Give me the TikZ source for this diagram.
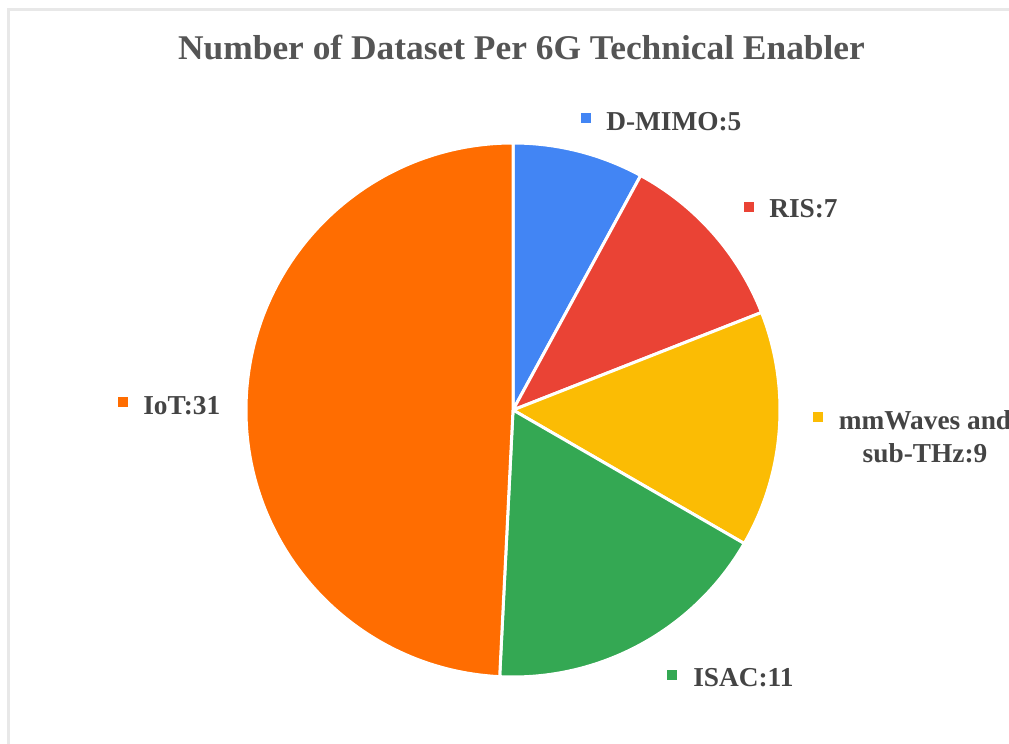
\documentclass[tikz,border=0pt]{standalone}
\usepackage{fontspec}
\setmainfont{Liberation Serif}
\usepackage{graphicx}
\definecolor{cMimo}{HTML}{4285F4}
\definecolor{cRis}{HTML}{EA4335}
\definecolor{cMm}{HTML}{FBBC04}
\definecolor{cIsac}{HTML}{34A853}
\definecolor{cIot}{HTML}{FF6D01}
\definecolor{cText}{HTML}{444444}
\definecolor{cTitle}{HTML}{555555}
\definecolor{cFrame}{HTML}{E8E8E8}
\tikzset{
  slice/.style={draw=white, line width=2.25pt, line join=round},
  keybox/.style={minimum size=7.5pt, inner sep=0pt, draw=none},
  keytext/.style={anchor=base west, inner sep=0pt, text=cText,
    font=\fontsize{20.5}{24}\selectfont\bfseries},
}
\begin{document}
\begin{tikzpicture}[x=0.75pt,y=0.75pt]
% canvas: 1009 x 743 units, y measured upwards
\useasboundingbox (0,0) rectangle (1009,743);
\clip (0,0) rectangle (1009,743);
\fill[white] (0,0) rectangle (1009,743);
% chart frame, continuing past the right and bottom edges
\draw[cFrame, line width=2.25pt] (8.5,-20) -- (8.5,733) -- (1030,733);

% title
\node[text=cTitle, inner sep=0pt, anchor=base] (title) at (521.5,683)
  {\resizebox{515pt}{\height}{\fontsize{26}{30}\selectfont\bfseries Number of Dataset Per 6G Technical Enabler}};

% pie: 5 + 7 + 9 + 11 + 31 = 63, clockwise from the top
\coordinate (c) at (513,333);
\def\R{267}
\filldraw[slice, fill=cMimo] (c) -- ++(90:\R) arc[start angle=90, end angle=61.43, radius=\R] -- cycle;
\filldraw[slice, fill=cRis] (c) -- ++(61.43:\R) arc[start angle=61.43, end angle=21.43, radius=\R] -- cycle;
\filldraw[slice, fill=cMm] (c) -- ++(21.43:\R) arc[start angle=21.43, end angle=-30, radius=\R] -- cycle;
\filldraw[slice, fill=cIsac] (c) -- ++(-30:\R) arc[start angle=-30, end angle=-92.86, radius=\R] -- cycle;
\filldraw[slice, fill=cIot] (c) -- ++(-92.86:\R) arc[start angle=-92.86, end angle=-270, radius=\R] -- cycle;

% labels with colour keys
\node[keybox, fill=cMimo] (kMimo) at (585.5,625) {};
\node[keytext] (tMimo) at (606,612) {D-MIMO:5};

\node[keybox, fill=cRis] (kRis) at (748.5,535.5) {};
\node[keytext] (tRis) at (769,525) {RIS:7};

\node[keybox, fill=cMm] (kMm) at (818,326) {};
\node[keytext, anchor=base] (tMm1) at (925,314) {mmWaves and};
\node[keytext, anchor=base] (tMm2) at (925,281) {sub-THz:9};

\node[keybox, fill=cIot] (kIot) at (123,341) {};
\node[keytext] (tIot) at (143,329) {IoT:31};

\node[keybox, fill=cIsac] (kIsac) at (672,68) {};
\node[keytext] (tIsac) at (693,57) {ISAC:11};
\end{tikzpicture}
\end{document}
